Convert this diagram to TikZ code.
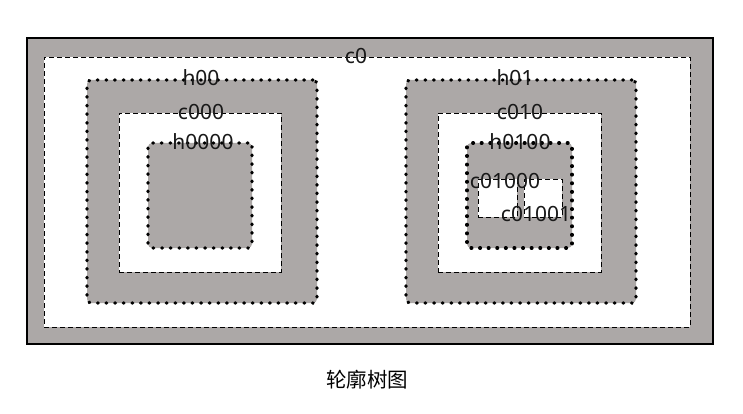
\documentclass[tikz,border=0pt]{standalone}
\usepackage{fontspec}
\setmainfont{Noto Sans}
\newfontfamily\cjk{Noto Sans CJK SC}
\definecolor{holegray}{HTML}{ACA8A7}
\begin{document}
\begin{tikzpicture}[x=1pt,y=-1pt,
  outerbox/.style={draw=black,line width=2.6pt,fill=holegray,inner sep=0pt},
  contour/.style={draw=black,line width=0.9pt,dash pattern=on 5pt off 3pt,fill=white,inner sep=0pt},
  hole/.style={draw=black,line width=3.4pt,line cap=round,dash pattern=on 0.6pt off 8pt,fill=holegray,rounded corners=4pt,inner sep=0pt},
  lbl/.style={font=\fontsize{21}{21}\selectfont,text=black!90,inner sep=0pt}]
\useasboundingbox (0,0) rectangle (743,414);
\node[outerbox,minimum width=686pt,minimum height=306pt] (outer) at (370,191) {};
\node[contour,minimum width=646pt,minimum height=270pt] (c0) at (367,192) {};
\node[hole,minimum width=230pt,minimum height=223pt] (h00) at (202,191.5) {};
\node[contour,minimum width=162pt,minimum height=159pt] (c000) at (200,192.5) {};
\node[hole,minimum width=104pt,minimum height=105pt] (h0000) at (200,195.5) {};
\node[hole,minimum width=230pt,minimum height=223pt] (h01) at (521,191.5) {};
\node[contour,minimum width=163pt,minimum height=159pt] (c010) at (519.5,192.5) {};
\node[hole,minimum width=105pt,minimum height=105pt] (h0100) at (519.5,195.5) {};
\node[contour,minimum width=39pt,minimum height=38pt] (c01000) at (497.5,198) {};
\node[contour,minimum width=38pt,minimum height=38pt] (c01001) at (543,198) {};
\node[lbl] (lc0) at (356,56) {c0};
\node[lbl] (lh00) at (201,78) {h00};
\node[lbl] (lc000) at (201,112) {c000};
\node[lbl] (lh0000) at (203,142) {h0000};
\node[lbl] (lh01) at (515,78) {h01};
\node[lbl] (lc010) at (520,112) {c010};
\node[lbl] (lh0100) at (520,142) {h0100};
\node[lbl] (lc01000) at (505,181) {c01000};
\node[lbl] (lc01001) at (536,214) {c01001};
\node[font=\cjk\fontsize{20.5}{20.5}\selectfont,inner sep=0pt] (cap) at (367,380) {轮廓树图};
\end{tikzpicture}
\end{document}
